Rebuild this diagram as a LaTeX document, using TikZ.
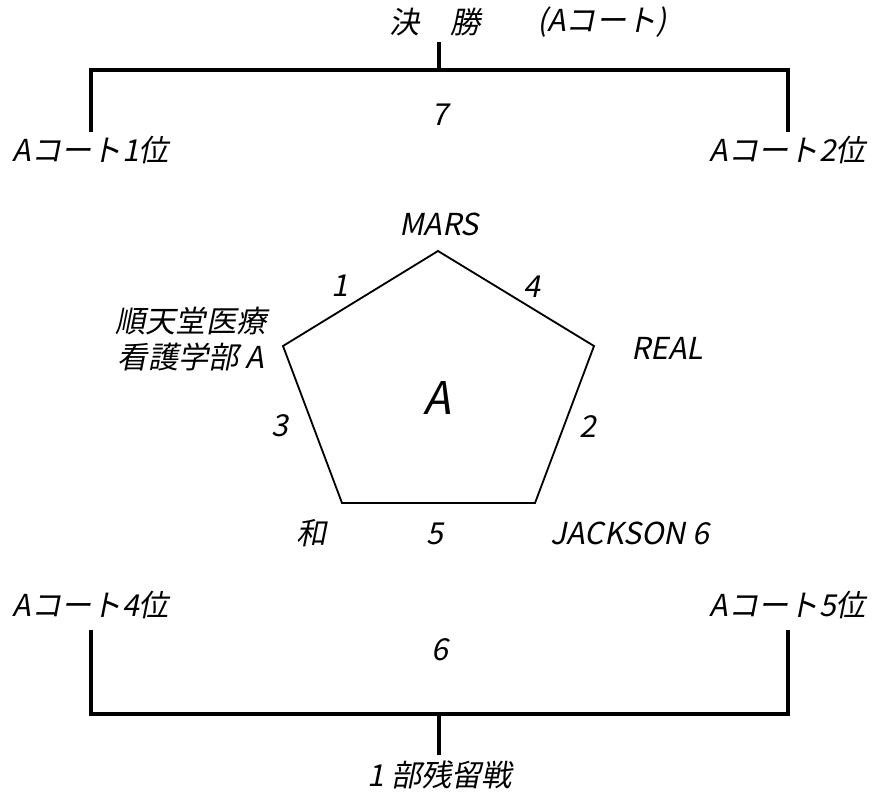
\documentclass[tikz,border=0pt]{standalone}
\usepackage{fontspec}
\setmainfont{Noto Sans CJK JP}[FakeSlant=0.2]
\begin{document}
\begin{tikzpicture}[x=0.025cm,y=-0.025cm,
  lbl/.style={font=\fontsize{21.5}{25}\selectfont,inner sep=0pt},
  big/.style={font=\fontsize{32}{36}\selectfont,inner sep=0pt},
  bracket/.style={line width=2.6pt},
  edge/.style={line width=1.3pt,line join=miter}]
\useasboundingbox (0,0) rectangle (878,795);
\begin{scope}
    \node[lbl] (final) at (435,22) {決\quad 勝};
    \node[lbl] (court) at (602,22) {(Aコート)};
    \node[lbl] (w1) at (91,150) {Aコート1位};
    \node[lbl] (w2) at (788,150) {Aコート2位};
    \node[lbl] (g7) at (440,115) {7};
    \coordinate (ts) at (439,42);
    \coordinate (tj) at (439,70);
    \coordinate (tl) at (91,132);
    \coordinate (tr) at (788,132);
    \draw[bracket] (ts)--(tj);
    \draw[bracket] (tl)--(tl|-tj)--(tr|-tj)--(tr);
\end{scope}
\begin{scope}
    \coordinate (mars) at (438,251);
    \coordinate (real) at (594,346);
    \coordinate (jack) at (535,503);
    \coordinate (wa) at (342,503);
    \coordinate (jun) at (283,346);
    \draw[edge] (mars)--(real)--(jack)--(wa)--(jun)--cycle;
    \node[lbl] (tmars) at (439,224) {MARS};
    \node[lbl] (treal) at (667,348) {REAL};
    \node[lbl] (tjack) at (630,533) {JACKSON 6};
    \node[lbl] (twa) at (312,533) {和};
    \node[lbl,align=center] (tjun) at (191,339) {順天堂医療\\看護学部 A};
    \node[big] (court) at (437,398) {A};
    \node[lbl] (g1) at (340,286) {1};
    \node[lbl] (g4) at (532,287) {4};
    \node[lbl] (g2) at (588,427) {2};
    \node[lbl] (g3) at (280,426) {3};
    \node[lbl] (g5) at (435,534) {5};
\end{scope}
\begin{scope}
    \node[lbl] (w4) at (91,605) {Aコート4位};
    \node[lbl] (w5) at (788,605) {Aコート5位};
    \node[lbl] (g6) at (440,650) {6};
    \node[lbl] (stay) at (440,775) {1 部残留戦};
    \coordinate (bl) at (91,630);
    \coordinate (br) at (788,630);
    \coordinate (bj) at (439,714);
    \coordinate (bs) at (439,755);
    \draw[bracket] (bl)--(bl|-bj)--(br|-bj)--(br);
    \draw[bracket] (bj)--(bs);
\end{scope}
\end{tikzpicture}
\end{document}
